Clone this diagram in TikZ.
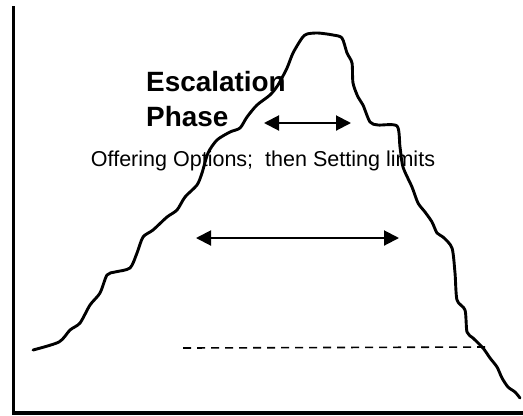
\documentclass[tikz,border=0pt]{standalone}
\usepackage{fontspec}
\setmainfont{Liberation Sans}
\usetikzlibrary{arrows.meta}
\tikzset{
  frameline/.style={line width=3.5bp, black},
  ridge/.style={line width=2.9bp, line join=round, line cap=round},
  span/.style={line width=2bp, {Triangle[length=15bp,width=15bp]}-{Triangle[length=15bp,width=15bp]}},
  baseline dash/.style={line width=1.6bp, dash pattern=on 8bp off 6bp},
  title/.style={font=\fontsize{28}{32}\selectfont\bfseries, inner sep=0pt},
  caption/.style={font=\fontsize{21.6}{25}\selectfont, inner sep=0pt}
}
\begin{document}
\begin{tikzpicture}[x=1bp,y=-1bp]
  \useasboundingbox (0,0) rectangle (523,415);
  \fill[white] (0,0) rectangle (523,415);

  % axes frame
  \coordinate (top) at (13.5,6);
  \coordinate (corner) at (13.5,412.8);
  \coordinate (right) at (523,412.8);
  \draw[frameline] (top) -- (corner) -- (right);

  % mountain outline
  \draw[ridge] plot[smooth, tension=0.45] coordinates {
    (33,350) (59,342) (70,330) (80,323) (90,305) (100,293) (107,275)
    (115,272) (130,268) (137,253) (143,237) (153,230) (167,217) (177,210)
    (185,197) (197,185) (202,173) (208,153) (217,140) (230,132) (240,128)
    (247,117) (257,105) (270,95) (278,85) (287,68) (293,53) (302,38)
    (307,34) (318,33) (333,35) (342,38) (347,53) (352,63) (353,83)
    (358,97) (363,105) (370,122) (378,125) (397,126) (400,147) (403,167)
    (412,187) (418,203) (425,212) (432,222) (437,233) (443,237) (452,248)
    (455,273) (457,300) (465,310) (467,332) (473,338) (483,348) (490,358)
    (497,367) (502,378) (508,387) (515,392) (520,398)};

  % labels
  \node[title, anchor=base west] (esc) at (146,91.5) {Escalation};
  \node[title, anchor=base west] (phase) at (146,126.5) {Phase};
  \node[caption, anchor=base] (opts) at (263,166) {Offering Options;\ \ then Setting limits};

  % span arrows
  \coordinate (ua) at (264,123);
  \coordinate (ub) at (351,123);
  \draw[span] (ua) -- (ub);
  \coordinate (la) at (196,238);
  \coordinate (lb) at (399,238);
  \draw[span] (la) -- (lb);

  % dashed level line
  \coordinate (da) at (183,348);
  \coordinate (db) at (485,347);
  \draw[baseline dash] (da) -- (db);
\end{tikzpicture}
\end{document}
